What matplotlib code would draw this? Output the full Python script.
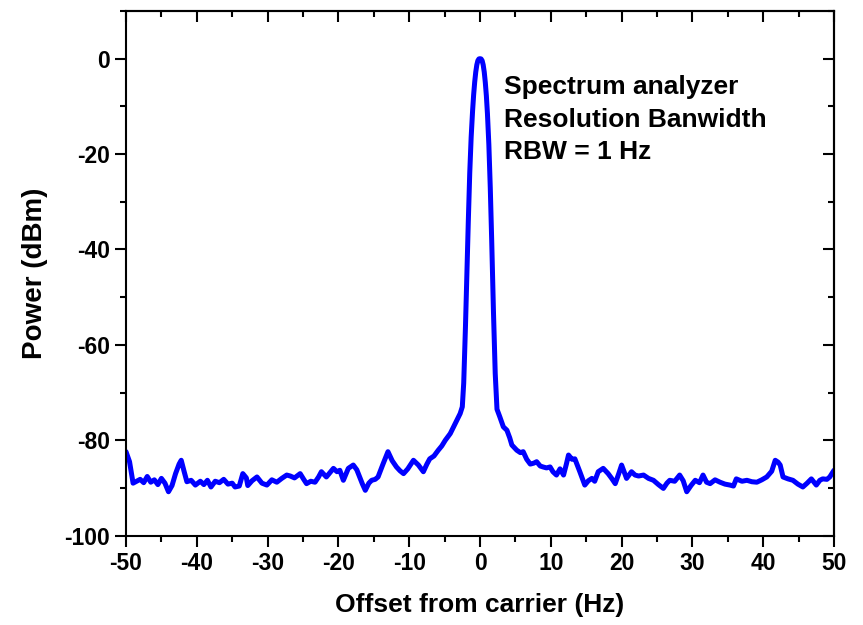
import matplotlib
matplotlib.use("Agg")
from matplotlib import pyplot as plt
from matplotlib.ticker import MultipleLocator

plt.rcParams['font.family'] = ['Liberation Sans', 'DejaVu Sans']
plt.rcParams['font.weight'] = 'bold'
plt.rcParams['axes.unicode_minus'] = False

offset_hz = [
    -50.0, -49.5, -49.0, -48.5, -48.0, -47.5, -47.0, -46.5, -46.0, -45.5,
    -45.0, -44.5, -44.0, -43.5, -43.0, -42.5, -42.2, -41.8, -41.4, -40.8,
    -40.2, -39.5, -39.0, -38.5, -38.0, -37.4, -36.8, -36.2, -35.6, -35.0,
    -34.6, -34.0, -33.5, -33.0, -32.8, -32.2, -31.5, -30.8, -30.1, -29.4,
    -28.7, -28.0, -27.3, -26.8, -26.2, -25.4, -24.9, -24.5, -23.9, -23.3,
    -22.8, -22.4, -21.7, -21.2, -20.7, -20.2, -19.8, -19.3, -18.6, -17.9,
    -17.4, -17.0, -16.6, -16.2, -15.7, -15.3, -14.8, -14.4, -13.7, -13.0,
    -12.4, -11.8, -11.3, -10.8, -10.2, -9.4, -8.7, -8.0, -7.5, -7.1,
    -6.5, -5.9, -5.4, -4.9, -4.2, -3.5, -2.8, -2.5, -2.3, -2.05,
    -1.85, -1.65, -1.45, -1.25, -1.05, -0.9, -0.75, -0.6, -0.45, -0.3,
    -0.15, 0.0, 0.15, 0.3, 0.45, 0.6, 0.75, 0.9, 1.05, 1.25,
    1.45, 1.65, 1.9, 2.15, 2.4, 2.8, 3.3, 3.8, 4.2, 4.5,
    5.2, 5.7, 6.1, 6.6, 7.1, 7.6, 8.0, 8.5, 8.9, 9.4,
    9.9, 10.3, 10.8, 11.3, 11.8, 12.2, 12.5, 13.0, 13.4, 14.1,
    14.8, 15.3, 15.8, 16.2, 16.7, 17.4, 18.1, 18.6, 19.1, 19.6,
    20.0, 20.7, 21.4, 21.9, 22.4, 23.1, 23.8, 24.5, 25.2, 25.9,
    26.4, 26.8, 27.5, 28.2, 28.7, 29.2, 29.8, 30.4, 31.0, 31.5,
    32.0, 32.5, 33.2, 33.9, 34.6, 35.3, 35.8, 36.2, 37.0, 37.7,
    38.4, 39.1, 39.8, 40.5, 41.2, 41.7, 42.1, 42.4, 42.8, 43.5,
    44.2, 44.9, 45.6, 46.2, 46.8, 47.5, 48.0, 48.4, 49.0, 49.4,
    50.0,
]
power_dbm = [
    -82.4, -84.5, -89.0, -88.6, -88.2, -88.9, -87.6, -88.8, -88.3, -89.3,
    -88.0, -89.0, -90.8, -89.5, -87.0, -85.0, -84.2, -86.5, -88.7, -88.4,
    -89.4, -88.6, -89.3, -88.4, -89.8, -88.6, -88.9, -88.2, -89.2, -89.0,
    -89.8, -89.6, -87.0, -87.9, -89.5, -88.5, -87.7, -89.0, -89.4, -88.3,
    -88.8, -88.0, -87.3, -87.5, -87.9, -87.0, -88.2, -89.1, -88.6, -88.8,
    -87.7, -86.6, -87.7, -86.8, -85.9, -86.6, -86.3, -88.4, -85.9, -85.2,
    -86.2, -87.7, -89.2, -90.5, -89.0, -88.4, -88.2, -87.7, -85.0, -82.4,
    -84.3, -85.6, -86.4, -87.0, -86.0, -84.2, -85.2, -86.6, -85.0, -83.9,
    -83.3, -82.1, -81.2, -80.0, -78.6, -76.5, -74.4, -73.0, -68.0, -56.0,
    -45.0, -34.0, -24.0, -16.5, -11.0, -7.6, -4.9, -2.8, -1.3, -0.4,
    -0.05, 0.0, -0.05, -0.4, -1.3, -2.8, -5.0, -7.8, -11.5, -18.0,
    -27.0, -38.0, -53.0, -66.0, -73.5, -75.1, -77.2, -77.9, -79.5, -81.0,
    -82.1, -82.6, -82.4, -84.0, -85.0, -84.8, -84.5, -85.4, -85.6, -85.8,
    -85.6, -86.6, -87.3, -86.0, -87.3, -85.0, -83.1, -84.0, -83.9, -86.6,
    -89.4, -88.5, -88.0, -88.6, -86.6, -85.9, -87.0, -88.0, -89.1, -87.0,
    -85.2, -88.0, -86.6, -87.3, -87.5, -87.3, -88.0, -88.4, -89.3, -90.1,
    -89.0, -88.4, -88.6, -87.3, -88.5, -90.8, -89.5, -88.4, -88.9, -87.3,
    -88.8, -89.1, -88.3, -88.8, -89.2, -89.4, -89.6, -88.1, -88.6, -88.4,
    -88.7, -88.8, -88.3, -87.7, -86.5, -84.2, -84.6, -85.2, -87.7, -88.1,
    -88.4, -89.2, -89.8, -89.0, -88.1, -89.4, -88.4, -88.1, -88.2, -87.7,
    -86.3,
]

x_ticks = [-50, -40, -30, -20, -10, 0, 10, 20, 30, 40, 50]
y_ticks = [-100, -80, -60, -40, -20, 0]

fig = plt.figure(figsize=(8.63, 6.25), dpi=100)
ax = fig.add_axes([0.146, 0.143, 0.8204, 0.8394])

ax.plot(offset_hz, power_dbm, color='#0000ff', lw=3.6,
        solid_joinstyle='round', solid_capstyle='round')

ax.set_xlim(-50, 50)
ax.set_ylim(-100, 10)
ax.set_xticks(x_ticks)
ax.set_yticks(y_ticks)
ax.xaxis.set_minor_locator(MultipleLocator(5))
ax.yaxis.set_minor_locator(MultipleLocator(10))
ax.tick_params(which='major', direction='out', length=8, width=1.5, labelsize=16.5)
ax.tick_params(which='minor', direction='out', length=4, width=1.5)
for s in ax.spines.values():
    s.set_linewidth(1.5)

# top and right ticks point inwards, no labels
top = ax.secondary_xaxis('top')
top.set_xticks(x_ticks)
top.xaxis.set_minor_locator(MultipleLocator(5))
top.tick_params(which='major', direction='in', length=8, width=1.5, labeltop=False)
top.tick_params(which='minor', direction='in', length=4, width=1.5)
right = ax.secondary_yaxis('right')
right.set_yticks(y_ticks)
right.yaxis.set_minor_locator(MultipleLocator(10))
right.tick_params(which='major', direction='in', length=8, width=1.5, labelright=False)
right.tick_params(which='minor', direction='in', length=4, width=1.5)
top.spines['top'].set_linewidth(1.5)
right.spines['right'].set_linewidth(1.5)

ax.set_xlabel("Offset from carrier (Hz)", fontsize=19, fontweight='bold', labelpad=13)
ax.set_ylabel("Power (dBm)", fontsize=20, fontweight='bold', labelpad=12)

ax.text(0.534, 0.878, "Spectrum analyzer\nResolution Banwidth\nRBW = 1 Hz",
        transform=ax.transAxes, fontsize=19, fontweight='bold',
        va='top', ha='left', linespacing=1.45)

fig.savefig("out.png", dpi=100)
